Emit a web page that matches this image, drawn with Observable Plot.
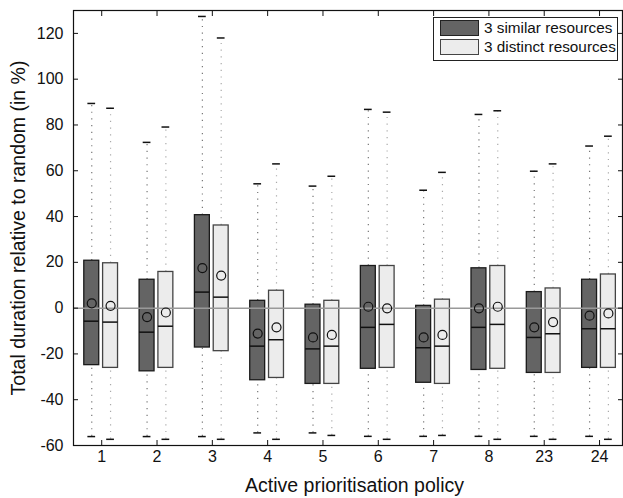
<!DOCTYPE html>
<html><head><meta charset="utf-8">
<script src="https://cdn.jsdelivr.net/npm/d3@7"></script>
<script src="https://cdn.jsdelivr.net/npm/@observablehq/plot@0.6"></script>
<style>
body{margin:0;background:#fff;}
#wrap{position:relative;width:623px;height:498px;font-family:"Liberation Sans",Arial,Helvetica,sans-serif;}
#legend{position:absolute;left:433px;top:17px;width:185px;height:44px;border:1px solid #222;background:#fff;box-sizing:border-box;font-size:15.3px;color:#111;}
#legend .row{position:absolute;left:6px;height:16px;display:flex;align-items:center;white-space:nowrap;}
#legend .sw{width:39px;height:16px;box-sizing:border-box;margin-right:5px;}
</style></head>
<body><div id="wrap"><div id="chart"></div>
<div id="legend">
<div class="row" style="top:2px"><div class="sw" style="background:#646464;border:1px solid #222"></div>3 similar resources</div>
<div class="row" style="top:21px"><div class="sw" style="background:#ececec;border:1px solid #444"></div>3 distinct resources</div>
</div></div>
<script>
const categories = ["1","2","3","4","5","6","7","8","23","24"];
const seriesNames = ["3 similar resources","3 distinct resources"];

const similarMin    = [-56.1,-56.1,-56.1,-54.5,-54.5,-56.0,-56.0,-56.0,-56.0,-56.0];
const similarQ1     = [-24.9,-27.6,-17.2,-31.5,-33.1,-26.5,-32.6,-27.0,-28.3,-26.1];
const similarMedian = [-5.7,-10.5,7.0,-16.6,-17.8,-8.4,-17.3,-8.4,-12.8,-9.0];
const similarQ3     = [20.7,12.4,40.6,3.2,1.5,18.4,1.0,17.4,7.0,12.4];
const similarMax    = [89.4,72.4,127.4,54.3,53.3,86.8,51.5,84.6,59.8,70.8];
const similarMean   = [2.1,-3.9,17.5,-11.1,-12.8,0.6,-12.8,-0.1,-8.4,-3.3];

const distinctMin    = [-57.3,-57.3,-57.3,-57.3,-55.6,-57.3,-55.6,-57.3,-57.3,-57.3];
const distinctQ1     = [-26.1,-26.1,-18.8,-30.5,-33.1,-26.1,-33.1,-26.5,-28.3,-26.1];
const distinctMedian = [-6.1,-7.9,4.8,-13.8,-16.6,-7.1,-16.6,-7.1,-11.2,-9.0];
const distinctQ3     = [19.6,15.8,36.1,7.6,3.2,18.4,3.7,18.4,8.6,14.7];
const distinctMax    = [87.3,79.1,118.0,63.0,57.6,85.6,59.3,86.2,63.0,75.1];
const distinctMean   = [1.0,-1.9,14.2,-8.4,-11.7,-0.1,-11.7,0.6,-6.1,-2.3];

const yTicks = [-60,-40,-20,0,20,40,60,80,100,120];

const offsets = {"3 similar resources": -0.18, "3 distinct resources": 0.16};
const halfW = 0.135, capW = 0.07;
const styles = {
  "3 similar resources": {fill:"#646464", stroke:"#1a1a1a", whisker:"#777"},
  "3 distinct resources": {fill:"#ececec", stroke:"#444", whisker:"#aaa"}
};

const rows = [];
categories.forEach((c, i) => {
  rows.push({cat:c, idx:i+1, series:seriesNames[0], min:similarMin[i], q1:similarQ1[i], med:similarMedian[i], q3:similarQ3[i], max:similarMax[i], mean:similarMean[i]});
  rows.push({cat:c, idx:i+1, series:seriesNames[1], min:distinctMin[i], q1:distinctQ1[i], med:distinctMedian[i], q3:distinctQ3[i], max:distinctMax[i], mean:distinctMean[i]});
});
rows.forEach(r => { r.pos = r.idx + offsets[r.series]; });
const pos = categories.map((c,i)=>i+1);
const bySeries = s => rows.filter(r => r.series === s);

const marks = [];
for (const s of seriesNames) {
  const d = bySeries(s), st = styles[s];
  marks.push(
    Plot.ruleX(d, {x:"pos", y1:"q3", y2:"max", stroke:st.whisker, strokeWidth:1.2, strokeDasharray:"1.2,5.5"}),
    Plot.ruleX(d, {x:"pos", y1:"min", y2:"q1", stroke:st.whisker, strokeWidth:1.2, strokeDasharray:"1.2,5.5"}),
    Plot.ruleY(d, {y:"max", x1:r=>r.pos-capW, x2:r=>r.pos+capW, stroke:"#111", strokeWidth:1.5}),
    Plot.ruleY(d, {y:"min", x1:r=>r.pos-capW, x2:r=>r.pos+capW, stroke:"#111", strokeWidth:1.5}),
    Plot.rect(d, {x1:r=>r.pos-halfW, x2:r=>r.pos+halfW, y1:"q1", y2:"q3", fill:st.fill, stroke:st.stroke, strokeWidth:1.3}),
    Plot.ruleY(d, {y:"med", x1:r=>r.pos-halfW, x2:r=>r.pos+halfW, stroke:"#111", strokeWidth:1.5})
  );
}
marks.push(Plot.ruleY([0], {stroke:"#999", strokeWidth:1.5}));
for (const s of seriesNames) {
  marks.push(Plot.dot(bySeries(s), {x:"pos", y:"mean", r:4.5, stroke:"#111", strokeWidth:1.2, fill:"none"}));
}
marks.push(
  Plot.frame({stroke:"#111", strokeWidth:1.2}),
  Plot.axisY({anchor:"left", ticks:yTicks, tickSize:0, tickPadding:10, tickFormat:d=>String(d), fontSize:16, label:null}),
  Plot.axisY({anchor:"left", ticks:[], label:"Total duration relative to random (in %)", labelAnchor:"center", labelOffset:62, labelArrow:"none", fontSize:19.5}),
  Plot.axisY({anchor:"left", ticks:yTicks, tickSize:5, dx:5, text:null, label:null}),
  Plot.axisY({anchor:"right", ticks:yTicks, tickSize:5, dx:-5, text:null, label:null}),
  Plot.axisX({anchor:"bottom", ticks:pos, tickSize:0, tickPadding:5, tickFormat:i=>categories[i-1], fontSize:16, label:null}),
  Plot.text(["Active prioritisation policy"], {frameAnchor:"bottom", dy:40, dx:6.5, lineAnchor:"middle", fontSize:19.5, fill:"#111"}),
  Plot.axisX({anchor:"bottom", ticks:pos, tickSize:5, dy:-5, text:null, label:null}),
  Plot.axisX({anchor:"top", ticks:pos, tickSize:5, dy:5, text:null, label:null})
);

const chart = Plot.plot({
  width:623, height:498,
  marginLeft:73, marginRight:1, marginTop:10, marginBottom:53,
  style:{fontFamily:"Liberation Sans, Arial, sans-serif", color:"#111", background:"#fff", overflow:"visible"},
  x:{type:"linear", domain:[0.49, 10.415]},
  y:{type:"linear", domain:[-60, 130]},
  marks
});
document.getElementById("chart").appendChild(chart);
</script>
</body></html>
